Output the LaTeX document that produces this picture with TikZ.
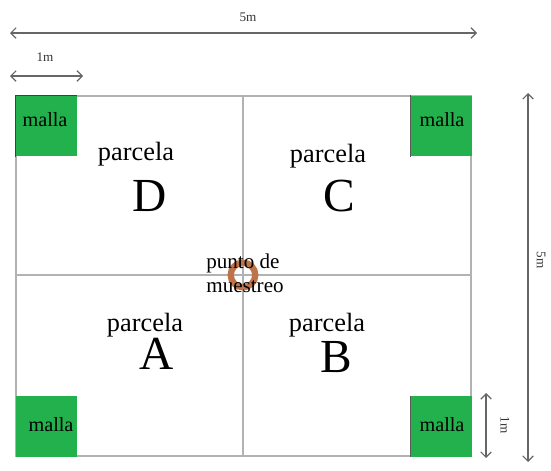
\documentclass[tikz,border=0pt]{standalone}
\usepackage{fontspec}
\setmainfont{Liberation Serif}
\usetikzlibrary{arrows.meta}
\definecolor{mallagreen}{RGB}{35,177,77}
\definecolor{ringbrown}{RGB}{190,115,75}
\tikzset{
	plotline/.style={draw=black!30, line width=0.75pt},
	measure/.style={draw=black!60, line width=0.7pt, {Straight Barb[length=3pt,width=6pt]}-{Straight Barb[length=3pt,width=6pt]}},
	malla/.style={fill=mallagreen, draw=none, minimum size=34.5pt, inner sep=0pt},
	mallatext/.style={inner sep=0pt, font=\fontsize{11.5}{12}\selectfont},
	parcela/.style={inner sep=0pt, font=\fontsize{15}{16}\selectfont},
	letra/.style={inner sep=0pt, font=\fontsize{27}{28}\selectfont},
	dimtext/.style={text=black!80, font=\fontsize{7.5}{8}\selectfont}
}
\begin{document}
\begin{tikzpicture}[x=0.02cm, y=-0.02cm]
		\useasboundingbox (0,0) rectangle (551,470);
		%plot outline and dividers
		\draw[plotline] (16,96) rectangle (471,456);
		\coordinate (north) at (243,96);
		\coordinate (south) at (243,456);
		\coordinate (west) at (16,275);
		\coordinate (east) at (471,275);
		\draw[plotline] (north) -- (south);
		\draw[plotline] (west) -- (east);
		
		%corner squares
		\node[malla] (mallaD) at (46.5,126){};
		\node[malla] (mallaC) at (441.5,126){};
		\node[malla] (mallaA) at (46.5,426.5){};
		\node[malla] (mallaB) at (441.5,426.5){};
		\node[mallatext] (textD) at (45,120){malla};
		\node[mallatext] (textC) at (442,120){malla};
		\node[mallatext] (textA) at (51,425){malla};
		\node[mallatext] (textB) at (442,425){malla};
		\draw[black!65, line width=0.7pt] (mallaC.north west) -- (mallaC.south west);
		\draw[black!65, line width=0.7pt] (mallaB.north west) -- (mallaB.south west);
		\draw[black!75, line width=0.7pt] (mallaD.south west) -- (mallaD.north west) -- (mallaD.north east);
		
		%plots
		\node[parcela] (parcelaD) at (136,154){parcela};
		\node[letra] (letraD) at (150,196){D};
		\node[parcela] (parcelaC) at (328,156){parcela};
		\node[letra] (letraC) at (339,196){C};
		\node[parcela] (parcelaA) at (145,325){parcela};
		\node[letra] (letraA) at (157,354){A};
		\node[parcela] (parcelaB) at (327,325){parcela};
		\node[letra] (letraB) at (336,357){B};
		
		%sampling point
		\node (ring) at (243,275) [circle, draw=ringbrown, line width=3.6pt, minimum size=14pt, inner sep=0pt]{};
		\node (punto) at (245,273) [align=left, inner sep=0pt, font=\fontsize{12}{13.6}\selectfont]{punto de\\muestreo};
		
		%dimensions
		\coordinate (largoL) at (10,33);
		\coordinate (largoR) at (477,33);
		\coordinate (cortoL) at (10,76);
		\coordinate (cortoR) at (83,76);
		\coordinate (altoT) at (528,93);
		\coordinate (altoB) at (528,462);
		\coordinate (bajoT) at (486,393);
		\coordinate (bajoB) at (486,458);
		\draw[measure] (largoL) -- (largoR);
		\draw[measure] (cortoL) -- (cortoR);
		\draw[measure] (altoT) -- (altoB);
		\draw[measure] (bajoT) -- (bajoB);
		\node[dimtext] (largo) at (248,17){5m};
		\node[dimtext] (corto) at (45,57){1m};
		\node[dimtext, rotate=-90] (alto) at (541,260){5m};
		\node[dimtext, rotate=-90] (bajo) at (505,425){1m};
		\end{tikzpicture}
\end{document}
